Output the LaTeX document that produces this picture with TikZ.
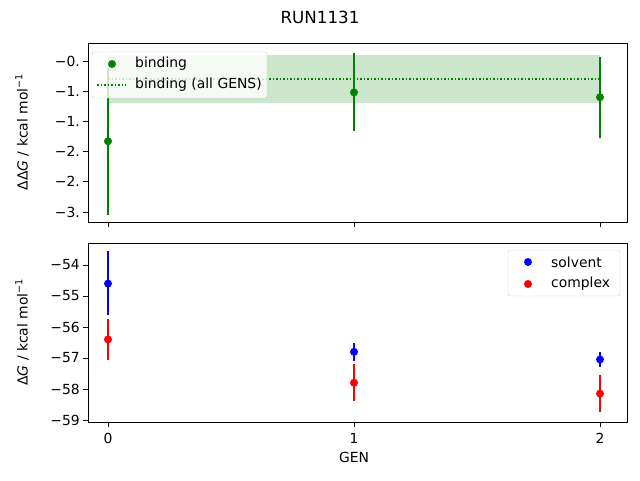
\documentclass[tikz,border=0pt]{standalone}
\usepackage{fontspec}
\setmainfont{DejaVu Sans}
\definecolor{mgreen}{RGB}{0,128,0}
\begin{document}
\begin{tikzpicture}[x=1pt,y=-1pt,
  txt/.style={font=\fontsize{13.9}{16}\selectfont,inner sep=0pt},
  eb/.style={line width=1.5pt},
  pt/.style={fill=#1,draw=none},
  tick/.style={line width=0.8pt}]
\useasboundingbox (0,0) rectangle (640,480);
\node[txt,font=\fontsize{16.7}{19}\selectfont] (title) at (320,17) {RUN1131};
% top axes band
\fill[mgreen,opacity=0.2] (108,55) rectangle (600,103.3);
\draw[mgreen,dotted,line width=1.5pt] (108,79.1) -- (600,79.1);
\draw[eb,mgreen] (108,67.6) -- (108,215);
\draw[eb,mgreen] (354,53.1) -- (354,131);
\draw[eb,mgreen] (600,56.8) -- (600,137.7);
\fill[mgreen] (108,141.3) circle (4);
\fill[mgreen] (354,92.4) circle (4);
\fill[mgreen] (600,97.2) circle (4);
\draw[line width=0.8pt] (88,43) rectangle (627,222);
\foreach \v/\l in {0/-0.5,1/-1.0,2/-1.5,3/-2.0,4/-2.5,5/-3.0}{
  \draw[tick] (88,61+30.2*\v) -- (83,61+30.2*\v);
  \node[txt,anchor=east] at (80,61+30.2*\v) {−\the\numexpr\v/2\relax.\ifodd\v 5\else 0\fi};
}
\foreach \x in {108,354,600}{\draw[tick] (\x,222) -- (\x,227);}
\node[txt,rotate=90] (yl1) at (22,132) {ΔΔ\textit{G} / kcal mol\textsuperscript{−1}};
% top legend
\draw[fill=white,fill opacity=0.8,draw=black!20,rounded corners=2pt] (92,52) rectangle (267,98);
\fill[mgreen] (112,64) circle (4);
\node[txt,anchor=west] at (135,64) {binding};
\draw[mgreen,dotted,line width=1.5pt] (97,85) -- (126,85);
\node[txt,anchor=west] at (135,85) {binding (all GENS)};
% bottom axes
\draw[eb,blue] (108,251) -- (108,314.6);
\draw[eb,blue] (354,342.5) -- (354,361);
\draw[eb,blue] (600,351.8) -- (600,367.3);
\draw[eb,red] (108,319) -- (108,359.5);
\draw[eb,red] (354,364) -- (354,401.4);
\draw[eb,red] (600,375) -- (600,412);
\fill[blue] (108,283.6) circle (4);
\fill[blue] (354,351.8) circle (4);
\fill[blue] (600,359.5) circle (4);
\fill[red] (108,339.4) circle (4);
\fill[red] (354,382.8) circle (4);
\fill[red] (600,393.6) circle (4);
\draw[line width=0.8pt] (88,243) rectangle (627,422);
\foreach \v in {54,...,59}{
  \draw[tick] (88,265+31*\v-1674) -- (83,265+31*\v-1674);
  \node[txt,anchor=east] at (80,265+31*\v-1674) {−\v};
}
\foreach \x/\l in {108/0,354/1,600/2}{
  \draw[tick] (\x,422) -- (\x,427);
  \node[txt,anchor=north] at (\x,433) {\l};
}
\node[txt] (xl) at (354,457) {GEN};
\node[txt,rotate=90] (yl2) at (22,332) {Δ\textit{G} / kcal mol\textsuperscript{−1}};
% bottom legend
\draw[fill=white,fill opacity=0.8,draw=black!20,rounded corners=2pt] (508,250) rectangle (620,296);
\fill[blue] (528,262) circle (4);
\node[txt,anchor=west] at (551,262) {solvent};
\fill[red] (528,284) circle (4);
\node[txt,anchor=west] at (551,284) {complex};
\end{tikzpicture}
\end{document}
